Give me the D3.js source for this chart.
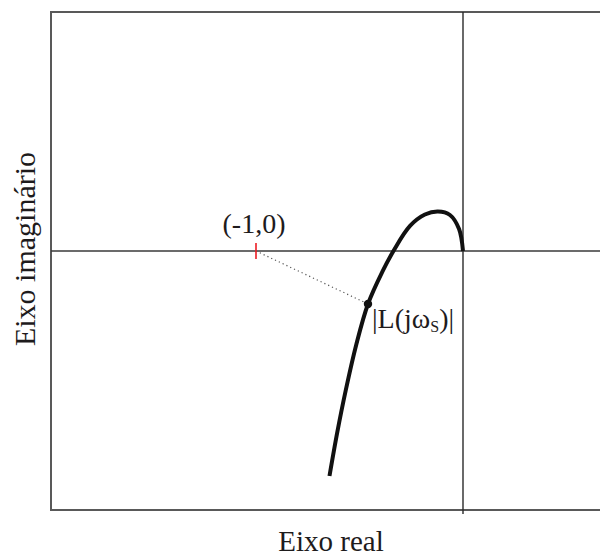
<!DOCTYPE html>
<html>
<head>
<meta charset="utf-8">
<script src="https://cdn.jsdelivr.net/npm/d3@7"></script>
<style>
  body { margin: 0; background: #fff; }
  text { font-family: 'Liberation Serif', 'Times New Roman', serif; fill: #1e1b1c; }
</style>
</head>
<body>
<div id="chart"></div>
<script>
// Nyquist-like curve L(jw), real and imaginary parts
const curveRe = [0, -0.019, -0.063, -0.121, -0.184, -0.256, -0.336, -0.390, -0.459, -0.516, -0.566, -0.607, -0.645]
const curveIm = [0, 0.106, 0.174, 0.191, 0.176, 0.121, 0, -0.101, -0.256, -0.454, -0.671, -0.874, -1.087]
const criticalPoint = [-1, 0]
const markIndex = 8
const labels = { critical: '(-1,0)', xTitle: 'Eixo real', yTitle: 'Eixo imaginário' }

const width = 600
const height = 558
const frame = { left: 51, top: 12, bottom: 510 }

const svg = d3.select('#chart')
  .append('svg')
  .attr('width', width)
  .attr('height', height)

const x = d3.scaleLinear()
  .domain([-1, 0])
  .range([256, 463])

const y = d3.scaleLinear()
  .domain([-1, 0])
  .range([458, 251])

// frame (open on the right)
svg.append('path')
  .attr('d', `M${width},${frame.top}H${frame.left}V${frame.bottom}H${width}`)
  .attr('fill', 'none')
  .attr('stroke', '#595959')
  .attr('stroke-width', 2)

// real and imaginary axes
svg.append('line')
  .attr('x1', frame.left).attr('x2', width)
  .attr('y1', y(0)).attr('y2', y(0))
  .attr('stroke', '#3a3a3a')
  .attr('stroke-width', 1.4)

svg.append('line')
  .attr('x1', x(0)).attr('x2', x(0))
  .attr('y1', frame.top).attr('y2', frame.bottom + 4)
  .attr('stroke', '#2a2a2a')
  .attr('stroke-width', 1.4)

const pts = curveRe.map((re, i) => [re, curveIm[i]])
const mark = pts[markIndex]

// dotted distance line
svg.append('line')
  .attr('x1', x(criticalPoint[0])).attr('y1', y(criticalPoint[1]))
  .attr('x2', x(mark[0])).attr('y2', y(mark[1]))
  .attr('stroke', '#555')
  .attr('stroke-width', 1.2)
  .attr('stroke-dasharray', '1.2,3')

// critical point tick
svg.append('line')
  .attr('x1', x(criticalPoint[0])).attr('x2', x(criticalPoint[0]))
  .attr('y1', y(criticalPoint[1]) - 8).attr('y2', y(criticalPoint[1]) + 8)
  .attr('stroke', '#ed1c24')
  .attr('stroke-width', 1.6)

const line = d3.line()
  .x(d => x(d[0]))
  .y(d => y(d[1]))
  .curve(d3.curveCatmullRom.alpha(0.5))

svg.append('path')
  .datum(pts)
  .attr('d', line)
  .attr('fill', 'none')
  .attr('stroke', '#111')
  .attr('stroke-width', 4)

svg.append('circle')
  .attr('cx', x(mark[0]))
  .attr('cy', y(mark[1]))
  .attr('r', 4.2)
  .attr('fill', '#111')

// labels
svg.append('text')
  .attr('x', x(criticalPoint[0]) - 2)
  .attr('y', 233)
  .attr('text-anchor', 'middle')
  .style('font-size', '28px')
  .text(labels.critical)

const lt = svg.append('text')
  .attr('x', x(mark[0]) + 4)
  .attr('y', 328)
  .style('font-size', '28px')
lt.append('tspan').text('|L(jω')
lt.append('tspan').attr('dy', 4).style('font-size', '16px').text('S')
lt.append('tspan').attr('dy', -4).text(')|')

svg.append('text')
  .attr('x', 331)
  .attr('y', 551)
  .attr('text-anchor', 'middle')
  .style('font-size', '29px')
  .text(labels.xTitle)

svg.append('text')
  .attr('transform', `translate(35,249) rotate(-90)`)
  .attr('text-anchor', 'middle')
  .style('font-size', '30px')
  .text(labels.yTitle)
</script>
</body>
</html>
